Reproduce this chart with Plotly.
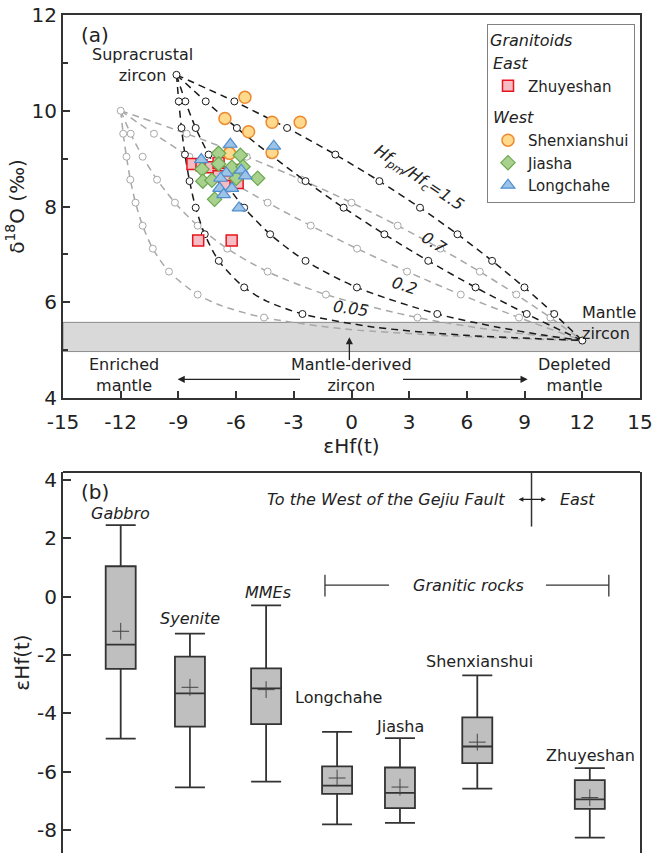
import plotly.graph_objects as go

# ---------------- Panel (a) data ----------------
# Sample data: epsilon Hf(t) and delta 18O
zhu_eps = [-8.27, -7.80, -7.33, -6.91, -6.91, -6.39, -5.92, -5.82, -6.60, -7.97, -6.23]
zhu_d18o = [8.89, 8.86, 8.82, 8.91, 8.63, 8.53, 8.49, 8.76, 8.43, 7.29, 7.29]
shen_eps = [-5.54, -6.58, -5.35, -4.13, -2.67, -6.34, -4.13]
shen_d18o = [10.28, 9.84, 9.56, 9.76, 9.76, 9.11, 9.13]
jia_eps = [-6.91, -5.78, -7.77, -6.91, -6.22, -5.64, -7.73, -7.26, -5.99, -4.88, -7.12]
jia_d18o = [9.11, 9.07, 8.78, 8.89, 8.82, 8.83, 8.53, 8.55, 8.59, 8.59, 8.15]
long_eps = [-6.30, -4.04, -7.81, -6.51, -5.73, -5.52, -6.81, -6.86, -6.22, -6.65, -5.85]
long_d18o = [9.30, 9.26, 8.98, 8.70, 8.76, 8.64, 8.59, 8.38, 8.38, 8.25, 7.97]

# End members
supra_end = (-9.1, 10.75)
crust2_end = (-12.0, 10.0)
mantle_end = (12.0, 5.2)

# Mixing-curve tick marks
black_d18o = [10.195, 9.64, 9.085, 8.53, 7.975, 7.42, 6.865, 6.31, 5.755]
black_eps_15 = [-6.09, -3.35, -0.84, 1.45, 3.56, 5.51, 7.31, 8.99, 10.54]
black_eps_07 = [-7.58, -5.96, -4.23, -2.39, -0.41, 1.71, 3.99, 6.45, 9.11]
black_eps_02 = [-8.64, -8.10, -7.43, -6.62, -5.58, -4.23, -2.39, 0.28, 4.46]
black_eps_005 = [-8.98, -8.84, -8.66, -8.42, -8.10, -7.63, -6.90, -5.58, -2.55]
gray_d18o = [9.52, 9.04, 8.56, 8.08, 7.60, 7.12, 6.64, 6.16, 5.68]
gray_eps_15 = [-8.57, -5.45, -2.61, 0.0, 2.40, 4.62, 6.67, 8.57, 10.34]
gray_eps_07 = [-10.27, -8.43, -6.46, -4.36, -2.12, 0.29, 2.89, 5.68, 8.71]
gray_eps_02 = [-11.48, -10.86, -10.11, -9.18, -8.00, -6.46, -4.36, -1.33, 3.43]
gray_eps_005 = [-11.87, -11.70, -11.50, -11.23, -10.86, -10.33, -9.49, -8.00, -4.55]

# Extra (unmarked) vertices traced along strongly bent curve sections
black_bend_005_eps = [-4.44, 1.18, 5.88, 8.45]
black_bend_005_d18o = [6.03, 5.48, 5.31, 5.26]
black_bend_02_eps = [7.60, 10.05]
black_bend_02_d18o = [5.48, 5.31]
gray_bend_005_eps = [-6.70, -0.31, 5.04, 7.97]
gray_bend_005_d18o = [5.92, 5.44, 5.30, 5.25]
gray_bend_02_eps = [7.00, 9.78]
gray_bend_02_d18o = [5.44, 5.30]

# Tick labels (hyphen minus as in the original)
a_xtick_vals = [-15, -12, -9, -6, -3, 0, 3, 6, 9, 12, 15]
a_xtick_text = ["-15", "-12", "-9", "-6", "-3", "0", "3", "6", "9", "12", "15"]
a_ytick_vals = [4, 6, 8, 10, 12]
a_ytick_text = ["4", "6", "8", "10", "12"]
b_ytick_vals = [4, 2, 0, -2, -4, -6, -8]
b_ytick_text = ["4", "2", "0", "-2", "-4", "-6", "-8"]

# ---------------- Panel (b) data ----------------
box_names = ["Gabbro", "Syenite", "MMEs", "Longchahe", "Jiasha", "Shenxianshui", "Zhuyeshan"]
box_upper = [2.45, -1.27, -0.30, -4.64, -4.85, -2.70, -5.88]
box_q3 = [1.04, -2.06, -2.46, -5.82, -5.86, -4.14, -6.29]
box_median = [-1.65, -3.32, -3.15, -6.48, -6.73, -5.14, -6.95]
box_q1 = [-2.48, -4.46, -4.37, -6.76, -7.25, -5.71, -7.28]
box_lower = [-4.87, -6.54, -6.34, -7.81, -7.76, -6.58, -8.26]
box_mean = [-1.19, -3.11, -3.19, -6.22, -6.53, -4.99, -6.89]

# layout positions of the boxes along the (hidden) x axis
box_pos = [1.0, 2.2, 3.52, 4.75, 5.84, 7.18, 9.13]

FONT = "DejaVu Sans"
DARK = "#222222"
AX = "#333333"

fig = go.Figure()


def add_curve(eps, d18o, bend_e, bend_d, start, color, axes):
    pts = [start] + list(zip(eps, d18o)) + list(zip(bend_e, bend_d)) + [mantle_end]
    pts.sort(key=lambda p: -p[1])
    fig.add_trace(go.Scatter(
        x=[p[0] for p in pts], y=[p[1] for p in pts], mode="lines",
        line=dict(color=color, width=1.5, dash="7px,5px", shape="spline", smoothing=0.8),
        showlegend=False, hoverinfo="skip", xaxis=axes[0], yaxis=axes[1]))
    fig.add_trace(go.Scatter(
        x=eps, y=d18o, mode="markers",
        marker=dict(symbol="circle", size=7, color="white", line=dict(color=color, width=1)),
        showlegend=False, hoverinfo="skip", xaxis=axes[0], yaxis=axes[1]))


GRAY = "#a8a8a8"
BLK = "#1a1a1a"
ax_a = ("x", "y")
add_curve(gray_eps_15, gray_d18o, [], [], crust2_end, GRAY, ax_a)
add_curve(gray_eps_07, gray_d18o, [], [], crust2_end, GRAY, ax_a)
add_curve(gray_eps_02, gray_d18o, gray_bend_02_eps, gray_bend_02_d18o, crust2_end, GRAY, ax_a)
add_curve(gray_eps_005, gray_d18o, gray_bend_005_eps, gray_bend_005_d18o, crust2_end, GRAY, ax_a)
add_curve(black_eps_15, black_d18o, [], [], supra_end, BLK, ax_a)
add_curve(black_eps_07, black_d18o, [], [], supra_end, BLK, ax_a)
add_curve(black_eps_02, black_d18o, black_bend_02_eps, black_bend_02_d18o, supra_end, BLK, ax_a)
add_curve(black_eps_005, black_d18o, black_bend_005_eps, black_bend_005_d18o, supra_end, BLK, ax_a)

# end-member markers
fig.add_trace(go.Scatter(x=[crust2_end[0]], y=[crust2_end[1]], mode="markers",
                         marker=dict(size=7, color="white", line=dict(color=GRAY, width=1)),
                         showlegend=False, hoverinfo="skip"))
fig.add_trace(go.Scatter(x=[supra_end[0], mantle_end[0]], y=[supra_end[1], mantle_end[1]], mode="markers",
                         marker=dict(size=7, color="white", line=dict(color=BLK, width=1)),
                         showlegend=False, hoverinfo="skip"))

# sample data
fig.add_trace(go.Scatter(
    x=zhu_eps, y=zhu_d18o, mode="markers", name="Zhuyeshan",
    legendgroup="East", legendgrouptitle=dict(text="<i>East</i>"),
    marker=dict(symbol="square", size=11, color="#f6bcc4", line=dict(color="#e8141c", width=1.5))))
fig.add_trace(go.Scatter(
    x=shen_eps, y=shen_d18o, mode="markers", name="Shenxianshui",
    legendgroup="West", legendgrouptitle=dict(text="<i>West</i>"),
    marker=dict(symbol="circle", size=12, color="#ffd98c", line=dict(color="#ed8a2f", width=1.5))))
fig.add_trace(go.Scatter(
    x=jia_eps, y=jia_d18o, mode="markers", name="Jiasha",
    legendgroup="West",
    marker=dict(symbol="diamond", size=11, color="#a9d18e", line=dict(color="#6aa84f", width=1.2))))
fig.add_trace(go.Scatter(
    x=long_eps, y=long_d18o, mode="markers", name="Longchahe",
    legendgroup="West",
    marker=dict(symbol="triangle-up", size=12, color="#9dc3e6", line=dict(color="#4f8fd0", width=1.2))))

# ---------------- Panel (b) ----------------
fig.add_trace(go.Box(
    x=box_pos, q1=box_q1, median=box_median, q3=box_q3,
    lowerfence=box_lower, upperfence=box_upper,
    width=0.52, whiskerwidth=1, boxpoints=False,
    fillcolor="#bfbfbf", line=dict(color=AX, width=1.8),
    showlegend=False, hoverinfo="skip", xaxis="x2", yaxis="y2"))
fig.add_trace(go.Scatter(
    x=box_pos, y=box_mean, mode="markers",
    marker=dict(symbol="cross-thin", size=12, line=dict(color="#444444", width=1)),
    showlegend=False, hoverinfo="skip", xaxis="x2", yaxis="y2"))

H = 853.0
a_top, a_bot = 15, 398
b_top = 472
xdom = [63 / 665, 640 / 665]

fig.update_layout(
    width=665, height=853,
    margin=dict(l=0, r=0, t=0, b=0),
    paper_bgcolor="white", plot_bgcolor="white",
    font=dict(family=FONT, size=16, color=DARK),
    xaxis=dict(domain=xdom, anchor="y", range=[-15, 15], tickvals=a_xtick_vals, ticktext=a_xtick_text,
               ticks="inside", ticklen=7, tickwidth=1.5, tickcolor=AX, automargin=False,
               ticklabelstandoff=5,
               showline=True, linewidth=2, linecolor=AX, mirror=True,
               showgrid=False, zeroline=False, tickfont=dict(size=20),
               title=dict(text="εHf(t)", font=dict(size=20), standoff=2)),
    yaxis=dict(domain=[1 - a_bot / H, 1 - a_top / H], anchor="x", range=[4, 12],
               tickvals=a_ytick_vals, ticktext=a_ytick_text,
               ticks="inside", ticklen=7, tickwidth=1.5, tickcolor=AX, automargin=False,
               minor=dict(dtick=1, tick0=0, ticks="inside", ticklen=5, tickwidth=1.5, tickcolor=AX),
               showline=True, linewidth=2, linecolor=AX, mirror=True,
               showgrid=False, zeroline=False, tickfont=dict(size=20),
               title=dict(text="δ<sup>18</sup>O (‰)", font=dict(size=20), standoff=2)),
    xaxis2=dict(domain=xdom, anchor="y2", range=[0, 10], showline=False, showticklabels=False,
                ticks="", showgrid=False, zeroline=False, automargin=False),
    yaxis2=dict(domain=[0, 1 - b_top / H], anchor="x2", range=[-8.79, 4.27],
                tickvals=b_ytick_vals, ticktext=b_ytick_text,
                ticks="inside", ticklen=8, tickwidth=1.5, tickcolor=AX, automargin=False,
                showline=True, linewidth=2, linecolor=AX, mirror=True,
                showgrid=False, zeroline=False, tickfont=dict(size=20),
                title=dict(text="εHf(t)", font=dict(size=20), standoff=2)),
    legend=dict(x=487 / 665, y=1 - 24 / H, xanchor="left", yanchor="top",
                bgcolor="white", bordercolor="#808080", borderwidth=1,
                font=dict(size=15), traceorder="grouped", tracegroupgap=8,
                title=dict(text="<i>Granitoids</i>", font=dict(size=16)),
                grouptitlefont=dict(size=16), itemwidth=30),
)

shapes = [
    # mantle zircon band
    dict(type="rect", xref="x domain", yref="y", x0=0, x1=1, y0=4.97, y1=5.58,
         fillcolor="#d9d9d9", line=dict(color="#8c8c8c", width=1), layer="below"),
    # panel (b) top border
    dict(type="line", xref="x2 domain", yref="y2 domain", x0=0, x1=1, y0=1, y1=1,
         line=dict(color=AX, width=2)),
    # Gejiu Fault line
    dict(type="line", xref="x2", yref="y2", x0=8.12, x1=8.12, y0=2.4, y1=4.27,
         line=dict(color=AX, width=1.5)),
    # Granitic rocks bracket
    dict(type="line", xref="x2", yref="y2", x0=4.54, x1=5.65, y0=0.39, y1=0.39,
         line=dict(color=AX, width=1.3)),
    dict(type="line", xref="x2", yref="y2", x0=8.37, x1=9.46, y0=0.39, y1=0.39,
         line=dict(color=AX, width=1.3)),
    dict(type="line", xref="x2", yref="y2", x0=4.54, x1=4.54, y0=0.0, y1=0.75,
         line=dict(color=AX, width=1.3)),
    dict(type="line", xref="x2", yref="y2", x0=9.46, x1=9.46, y0=0.0, y1=0.75,
         line=dict(color=AX, width=1.3)),
]
fig.update_layout(shapes=shapes)

ann = []


def txt(x, y, text, size=16, xref="x", yref="y", **kw):
    d = dict(x=x, y=y, text=text, xref=xref, yref=yref, showarrow=False,
             font=dict(size=size, color=DARK, family=FONT))
    d.update(kw)
    ann.append(d)


def arrow(x, y, ax, ay, xref="x", yref="y", **kw):
    d = dict(x=x, y=y, ax=ax, ay=ay, xref=xref, yref=yref, axref=xref, ayref=yref,
             text="", showarrow=True, arrowhead=2, arrowsize=1.1, arrowwidth=1.3, arrowcolor=DARK)
    d.update(kw)
    ann.append(d)


# panel (a) texts
txt(-13.36, 11.58, "(a)", size=20)
txt(-10.88, 10.96, "Supracrustal<br>zircon")
txt(11.9, 5.57, "Mantle<br>zircon", xanchor="left", align="left")
txt(-11.85, 4.49, "Enriched<br>mantle")
txt(11.57, 4.49, "Depleted<br>mantle")
txt(0.0, 4.48, "Mantle-derived<br>zircon")
txt(3.52, 8.59, "<i>Hf<sub>pm</sub>/Hf<sub>c</sub>=1.5</i>", textangle=34)
txt(4.27, 7.24, "<i>0.7</i>", textangle=33)
txt(2.74, 6.36, "<i>0.2</i>", textangle=18)
txt(-0.04, 5.87, "<i>0.05</i>", textangle=8)
arrow(-9.04, 4.39, -2.6, 4.39)
arrow(9.16, 4.39, 2.6, 4.39)
arrow(-0.11, 5.27, -0.11, 4.76)

# panel (b) texts
txt(0.56, 3.57, "(b)", size=20, xref="x2", yref="y2")
txt(7.69, 3.33, "<i>To the West of the Gejiu Fault</i>", xref="x2", yref="y2", xanchor="right")
txt(8.91, 3.33, "<i>East</i>", xref="x2", yref="y2")
arrow(8.37, 3.33, 7.87, 3.33, xref="x2", yref="y2", arrowside="end+start", arrowhead=2,
      arrowsize=0.8, arrowwidth=1.2, startarrowhead=2, startarrowsize=0.8)
txt(7.02, 0.39, "<i>Granitic rocks</i>", xref="x2", yref="y2")
label_pos = {
    "Gabbro": (1.0, 2.85, True),
    "Syenite": (2.2, -0.75, True),
    "MMEs": (3.55, 0.15, True),
    "Longchahe": (4.78, -3.47, False),
    "Jiasha": (5.84, -4.46, False),
    "Shenxianshui": (7.21, -2.23, False),
    "Zhuyeshan": (9.14, -5.44, False),
}
for name in box_names:
    lx, ly, it = label_pos[name]
    txt(lx, ly, f"<i>{name}</i>" if it else name, xref="x2", yref="y2")

fig.update_layout(annotations=ann)

fig.write_html("out.html", config={"displayModeBar": False},
               post_script="document.body.style.margin='0';")
